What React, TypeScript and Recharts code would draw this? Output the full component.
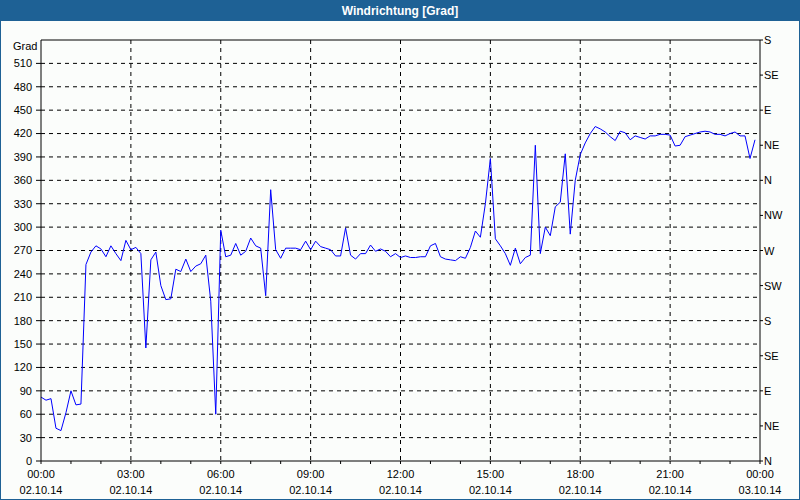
import React from "react";
import {
  LineChart,
  Line,
  XAxis,
  YAxis,
  CartesianGrid,
  ReferenceLine,
} from "recharts";

// Wind direction readings every 10 minutes, starting 02.10.14 00:00
const directions: number[] = [
  82, 78, 80, 42, 39, 62, 90, 72, 73, 252,
  268, 276, 272, 262, 276, 266, 257, 283, 271, 274,
  266, 145, 258, 268, 225, 207, 208, 246, 243, 259,
  243, 250, 253, 264, 205, 60, 296, 262, 264, 279,
  264, 269, 286, 276, 273, 212, 348, 271, 260, 273,
  273, 273, 271, 282, 271, 282, 275, 273, 271, 263,
  263, 299, 264, 259, 266, 266, 277, 269, 272, 269,
  262, 266, 261, 263, 261, 261, 262, 262, 276, 279,
  262, 259, 258, 257, 262, 260, 274, 295, 287, 330,
  388, 285, 276, 266, 251, 273, 253, 261, 264, 405,
  266, 300, 289, 326, 332, 394, 291, 360, 393, 408,
  420, 429, 426, 422, 416, 411, 423, 421, 412, 417,
  415, 413, 417, 417, 419, 419, 418, 404, 405, 416,
  418, 420, 422, 423, 422, 419, 419, 417, 420, 422,
  417, 417, 388, 412,
];
const sampleMinutes = 10;

const majorTicks: number[] = [0, 180, 360, 540, 720, 900, 1080, 1260, 1440];
const minorTicks: number[] = [
  0, 60, 120, 180, 240, 300, 360, 420, 480, 540, 600, 660, 720, 780, 840,
  900, 960, 1020, 1080, 1140, 1200, 1260, 1320, 1380, 1440,
];
const timeLabels: string[] = [
  "00:00", "03:00", "06:00", "09:00", "12:00", "15:00", "18:00", "21:00", "00:00",
];
const dateLabels: string[] = [
  "02.10.14", "02.10.14", "02.10.14", "02.10.14", "02.10.14",
  "02.10.14", "02.10.14", "02.10.14", "03.10.14",
];
const gradTicks: number[] = [
  0, 30, 60, 90, 120, 150, 180, 210, 240, 270, 300, 330, 360, 390, 420, 450, 480, 510,
];
const gridValues: number[] = [
  30, 60, 90, 120, 150, 180, 210, 240, 270, 300, 330, 360, 390, 420, 450, 480, 510,
];
const compassTicks: number[] = [0, 45, 90, 135, 180, 225, 270, 315, 360, 405, 450, 495, 540];
const compassLabels: string[] = [
  "N", "NE", "E", "SE", "S", "SW", "W", "NW", "N", "NE", "E", "SE", "S",
];

const data = directions.map((v, i) => ({ t: i * sampleMinutes, dir: v }));

const FONT = "'Liberation Sans', Arial, sans-serif";

const XTick = (props: any) => {
  const { x, y, payload } = props;
  const i = majorTicks.indexOf(payload.value);
  if (i < 0) return null;
  return (
    <g>
      <text x={x} y={y} dy={12} textAnchor="middle" fontSize={11} fontFamily={FONT} fill="#000">
        {timeLabels[i]}
      </text>
      <text x={x} y={y} dy={28} textAnchor="middle" fontSize={11} fontFamily={FONT} fill="#000">
        {dateLabels[i]}
      </text>
    </g>
  );
};

const RTick = (props: any) => {
  const { x, y, payload } = props;
  const i = compassTicks.indexOf(Number(payload.value));
  const label = i >= 0 ? compassLabels[i] : "";
  return (
    <text x={x} y={y} dy={4} textAnchor="start" fontSize={11} fontFamily={FONT} fill="#000">
      {label}
    </text>
  );
};

export default function App() {
  return (
    <div
      style={{
        position: "absolute",
        left: 0,
        top: 0,
        width: 800,
        height: 500,
        boxSizing: "border-box",
        border: "1px solid #1e6195",
        background: "#fbfdfb",
        overflow: "hidden",
        fontFamily: FONT,
      }}
    >
      <div
        style={{
          position: "absolute",
          left: 0,
          top: 0,
          width: 798,
          height: 20,
          background: "#1e6195",
          color: "#fff",
          fontWeight: "bold",
          fontSize: 12,
          lineHeight: "20px",
          textAlign: "center",
        }}
      >
        Windrichtung [Grad]
      </div>
      <div
        style={{
          position: "absolute",
          left: 12,
          top: 39,
          fontSize: 11,
          color: "#000",
        }}
      >
        Grad
      </div>
      <div style={{ position: "absolute", left: -1, top: -1 }}>
        <LineChart
          width={800}
          height={500}
          data={data}
          margin={{ top: 40, right: 0, bottom: 0, left: 0 }}
        >
          <CartesianGrid
            yAxisId="l"
            stroke="#000"
            strokeDasharray="4 4"
            horizontalValues={gridValues}
            verticalValues={[180, 360, 540, 720, 900, 1080, 1260]}
          />
          <XAxis
            dataKey="t"
            type="number"
            domain={[0, 1440]}
            ticks={minorTicks}
            interval={0}
            height={39}
            tickSize={3}
            tickMargin={2}
            stroke="#000"
            tick={<XTick />}
          />
          <YAxis
            yAxisId="l"
            orientation="left"
            type="number"
            domain={[0, 540]}
            ticks={gradTicks}
            interval={0}
            width={41}
            tickSize={5}
            tickMargin={4}
            stroke="#000"
            tick={{ fontSize: 11, fontFamily: FONT, fill: "#000" }}
          />
          <YAxis
            yAxisId="r"
            orientation="right"
            type="number"
            domain={[0, 540]}
            allowDataOverflow
            ticks={compassTicks}
            interval={0}
            width={40}
            tickSize={3}
            tickMargin={1}
            stroke="#000"
            tick={<RTick />}
          />
          <ReferenceLine yAxisId="l" y={540} stroke="#000" strokeWidth={1} />
          <Line
            yAxisId="l"
            type="linear"
            dataKey="dir"
            stroke="#0000ff"
            strokeWidth={1}
            dot={false}
            isAnimationActive={false}
          />
        </LineChart>
      </div>
    </div>
  );
}
